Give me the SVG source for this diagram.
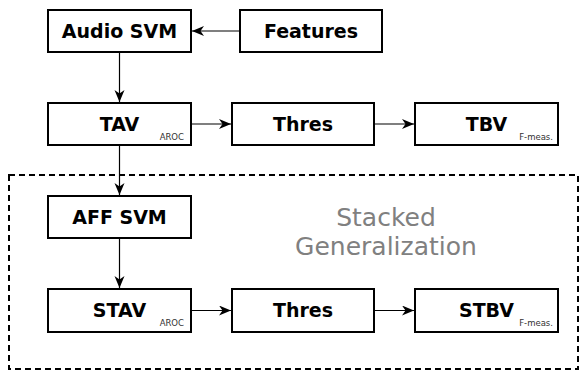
<svg xmlns="http://www.w3.org/2000/svg" width="579" height="372" viewBox="0 0 579 372">
<style>
.box{fill:#fff;stroke:#000;stroke-width:2}
.lbl{font-family:"DejaVu Sans",sans-serif;font-weight:bold;font-size:19px;text-anchor:middle;fill:#000}
.sub{font-family:"DejaVu Sans",sans-serif;font-size:8.5px;text-anchor:end;fill:#333}
.con{stroke:#000;stroke-width:1.2;fill:none;marker-end:url(#ah)}
.grp{font-family:"DejaVu Sans",sans-serif;font-size:25px;text-anchor:middle;fill:#808080}
</style>
<defs>
<marker id="ah" markerUnits="userSpaceOnUse" markerWidth="14" markerHeight="12" refX="12" refY="5" orient="auto">
<path d="M0,0 L12,5 L0,10 L3.5,5 z" fill="#000"/>
</marker>
</defs>
<rect x="9" y="175" width="569" height="194" fill="none" stroke="#000" stroke-width="2" stroke-dasharray="6,4"/>
<text class="grp" x="386" y="226">Stacked</text>
<text class="grp" x="386" y="255">Generalization</text>
<g id="connectors">
<line class="con" x1="240" y1="31" x2="192" y2="31"/>
<line class="con" x1="119.5" y1="52" x2="119.5" y2="102"/>
<line class="con" x1="191" y1="124" x2="231" y2="124"/>
<line class="con" x1="374" y1="124" x2="414" y2="124"/>
<line class="con" x1="119.5" y1="145" x2="119.5" y2="195"/>
<line class="con" x1="119.5" y1="238" x2="119.5" y2="288"/>
<line class="con" x1="191" y1="310.5" x2="231" y2="310.5"/>
<line class="con" x1="374" y1="310.5" x2="414" y2="310.5"/>
</g>
<g id="audio-svm"><rect class="box" x="48" y="10" width="143" height="42"/><text class="lbl" x="119.5" y="38">Audio SVM</text></g>
<g id="features"><rect class="box" x="240" y="10" width="142" height="42"/><text class="lbl" x="311" y="38">Features</text></g>
<g id="tav"><rect class="box" x="48" y="103" width="143" height="42"/><text class="lbl" x="119.5" y="131">TAV</text><text class="sub" x="184" y="140">AROC</text></g>
<g id="thres1"><rect class="box" x="232" y="103" width="142" height="42"/><text class="lbl" x="303" y="131">Thres</text></g>
<g id="tbv"><rect class="box" x="415" y="103" width="143" height="42"/><text class="lbl" x="486.5" y="131">TBV</text><text class="sub" x="553" y="140">F-meas.</text></g>
<g id="aff-svm"><rect class="box" x="48" y="196" width="143" height="42"/><text class="lbl" x="119.5" y="224">AFF SVM</text></g>
<g id="stav"><rect class="box" x="48" y="289" width="143" height="43"/><text class="lbl" x="119.5" y="317">STAV</text><text class="sub" x="184" y="326">AROC</text></g>
<g id="thres2"><rect class="box" x="232" y="289" width="142" height="43"/><text class="lbl" x="303" y="317">Thres</text></g>
<g id="stbv"><rect class="box" x="415" y="289" width="143" height="43"/><text class="lbl" x="486.5" y="317">STBV</text><text class="sub" x="553" y="326">F-meas.</text></g>
</svg>
